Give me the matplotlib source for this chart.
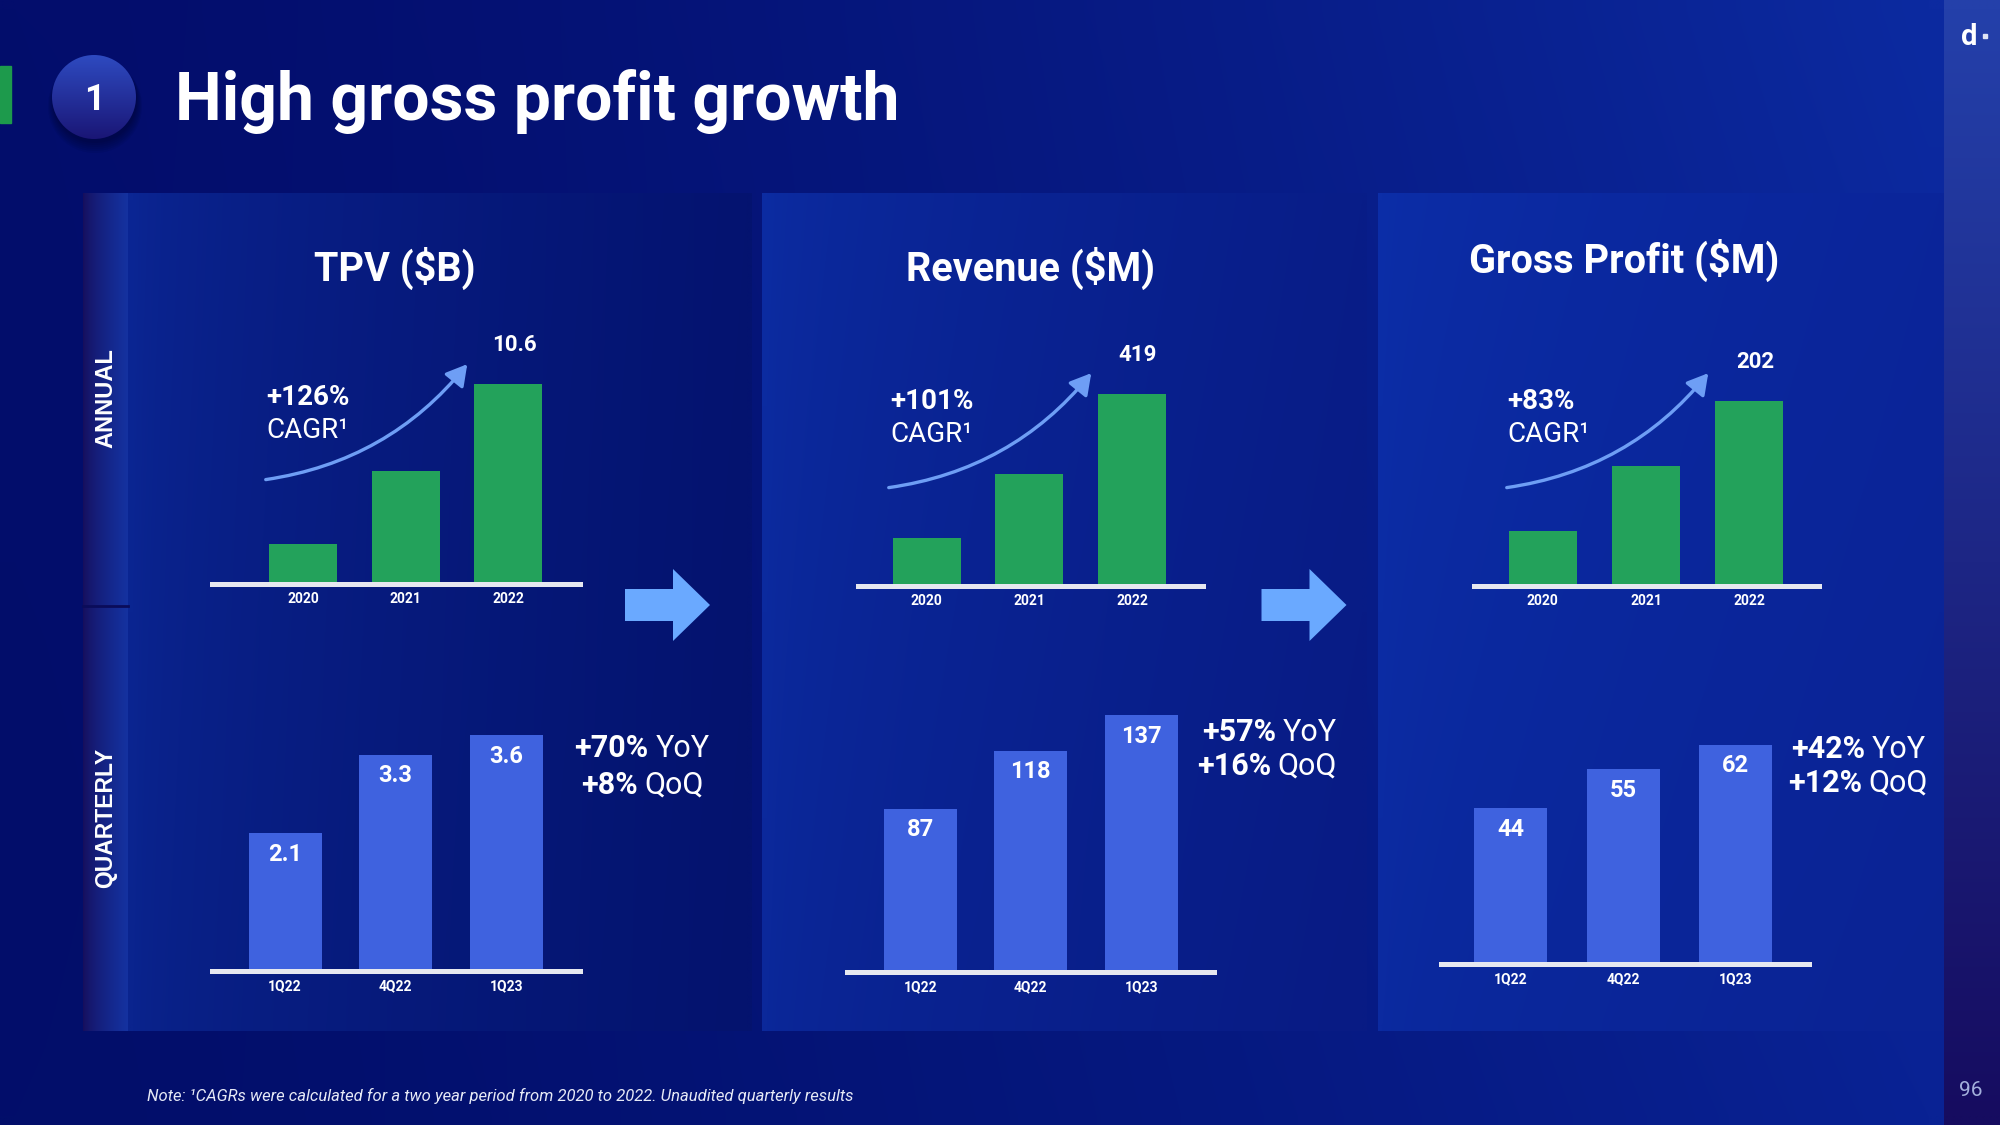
import numpy as np
import matplotlib
matplotlib.use("Agg")
import matplotlib.pyplot as plt
from matplotlib.patches import Rectangle, Circle, Polygon, FancyArrowPatch

plt.rcParams['font.family'] = ['Roboto', 'DejaVu Sans']

# Data
years = ["2020", "2021", "2022"]
quarters = ["1Q22", "4Q22", "1Q23"]

tpv_annual = [2.1, 6.0, 10.6]
tpv_quarterly = [2.1, 3.3, 3.6]
revenue_annual = [104, 244, 419]
revenue_quarterly = [87, 118, 137]
gp_annual = [60, 130, 202]
gp_quarterly = [44, 55, 62]

titles = ["TPV ($B)", "Revenue ($M)", "Gross Profit ($M)"]
cagr = ["+126%", "+101%", "+83%"]
yoy = ["+70%", "+57%", "+42%"]
qoq = ["+8%", "+16%", "+12%"]
fmt = ["{:.1f}", "{:.0f}", "{:.0f}"]

W, H = 2000, 1125
GREEN = "#23a25b"
BLUE = "#3f62df"
ARROW = "#6aa9ff"
CURVE = "#6e9ef5"

# Layout of each small chart (pixels, y from top)
annual_layout = [
    dict(line=(212, 580), base=584, c0=303, sp=102.7, bw=68, ppu=18.9),
    dict(line=(858, 1203), base=585.5, c0=926.7, sp=102.65, bw=68, ppu=0.4566),
    dict(line=(1474, 1819), base=585.5, c0=1542.7, sp=103.3, bw=68, ppu=0.9155),
]
quarter_layout = [
    dict(line=(212, 580), base=971, c0=285, sp=110.65, bw=73, ppu=65.6),
    dict(line=(847, 1214), base=972, c0=920.3, sp=110.4, bw=73, ppu=1.877),
    dict(line=(1441, 1809), base=964, c0=1510.8, sp=112.2, bw=73, ppu=3.537),
]
title_pos = [(395, 281), (1031, 281), (1624, 273)]
cagr_pos = [(266, 395), (890, 399), (1507, 399)]
curve_pos = [((263, 480), (469, 362)), ((886, 488), (1093, 371)), ((1504, 488), (1710, 371))]
growth_pos = [((642, 746), (642, 783)), ((1269, 730), (1267, 764)), ((1858, 747), (1858, 781))]

fig = plt.figure(figsize=(20, 11.25), dpi=100)
bg = fig.add_axes([0, 0, 1, 1])
bg.axis('off')


def gradient(x0, x1, y0, y1, tl, tr, bl, br, z=0, power=1.0, n=64):
    u = np.linspace(0, 1, n) ** power
    v = np.linspace(0, 1, n)
    U, V = np.meshgrid(u, v)
    tl, tr, bl, br = [np.array(c, float) / 255 for c in (tl, tr, bl, br)]
    top = tl[None, None, :] * (1 - U[..., None]) + tr[None, None, :] * U[..., None]
    bot = bl[None, None, :] * (1 - U[..., None]) + br[None, None, :] * U[..., None]
    img = top * (1 - V[..., None]) + bot * V[..., None]
    return bg.imshow(img, extent=(x0, x1, y1, y0), aspect='auto',
                     interpolation='bilinear', zorder=z)


# page background
gradient(0, 1944, 0, H, (3, 13, 108), (12, 42, 160), (2, 14, 106), (9, 34, 148), power=1.4)
# right strip
gradient(1944, W, 0, H, (36, 64, 170), (36, 64, 170), (22, 12, 96), (22, 12, 96))

# panels
gradient(128, 752, 193, 1031, (11, 38, 148), (4, 19, 112), (10, 36, 142), (4, 19, 110), z=1, power=0.6)
gradient(762, 1367, 193, 1031, (12, 44, 162), (8, 29, 136), (11, 40, 154), (8, 27, 132), z=1, power=0.6)
gradient(1378, 1944, 193, 1031, (12, 46, 168), (10, 37, 154), (11, 42, 160), (10, 35, 148), z=1, power=0.6)
# ANNUAL / QUARTERLY strip
gradient(83, 128, 193, 1031, (22, 14, 92), (20, 50, 160), (22, 14, 92), (20, 50, 160), z=1, power=0.7)
bg.plot([83, 128], [606, 606], color="#0a0c5a", lw=2, zorder=2)
bg.text(106, 398, "ANNUAL", rotation=90, ha='center', va='center', color='white',
        fontsize=17, fontweight='bold', family=['Liberation Sans', 'DejaVu Sans'], zorder=3)
bg.text(106, 818, "QUARTERLY", rotation=90, ha='center', va='center', color='white',
        fontsize=16.5, fontweight='bold', family=['Liberation Sans', 'DejaVu Sans'], zorder=3)

# header: green tab, numbered circle, title
bg.add_patch(Rectangle((0, 66), 11, 57, color="#1d9a4c", zorder=3))
for k in range(6):
    bg.add_patch(Circle((95, 101 + k), 42 + k, color='black', alpha=0.05, lw=0, zorder=3))
circ = Circle((94, 97), 42, transform=bg.transData, facecolor='none', lw=0)
bg.add_patch(circ)
im = gradient(52, 136, 55, 139, (46, 74, 192), (46, 74, 192), (26, 22, 118), (26, 22, 118), z=4)
im.set_clip_path(circ)
bg.text(94, 97 + 13, "1", ha='center', va='baseline', color='white', fontsize=26,
        fontweight='bold', zorder=5)
bg.text(175, 120, "High gross profit growth", ha='left', va='baseline', color='white',
        fontsize=47.5, fontweight='bold', zorder=5)

# logo and page number
bg.text(1969, 45, "d", ha='center', va='baseline', color='white', fontsize=21,
        fontweight='bold', zorder=5)
bg.add_patch(Rectangle((1983, 34), 4, 4, color='#dfe4f5', zorder=5))
bg.text(1971, 1096, "96", ha='center', va='baseline', color='#a3afdc', fontsize=15, zorder=5)

bg.text(147, 1101, "Note: \u00b9CAGRs were calculated for a two year period from 2020 to 2022. "
        "Unaudited quarterly results", ha='left', va='baseline', color='#e6e9f6',
        fontsize=12, style='italic', zorder=5)

# transition arrows
for dx in (0, 636.5):
    pts = [(625 + dx, 589), (673 + dx, 589), (673 + dx, 569), (710 + dx, 605),
           (673 + dx, 641), (673 + dx, 621), (625 + dx, 621)]
    bg.add_patch(Polygon(pts, closed=True, color=ARROW, lw=0, zorder=3))


def chart(vals, labels, lay, color):
    x0, x1 = lay['line']
    hpx = 340
    ax = fig.add_axes([x0 / W, (H - lay['base']) / H, (x1 - x0) / W, hpx / H])
    ax.set_xlim((x0 - lay['c0']) / lay['sp'], (x1 - lay['c0']) / lay['sp'])
    ax.set_ylim(0, hpx / lay['ppu'])
    ax.axis('off')
    x = np.arange(len(vals))
    ax.bar(x, vals, width=lay['bw'] / lay['sp'], color=color, zorder=2)
    ax.axhline(0, color='#e6e8f0', lw=3.6, zorder=3, clip_on=False)
    for i, lab in enumerate(labels):
        ax.annotate(lab, (i, 0), xytext=(0, -14), textcoords='offset points',
                    ha='center', va='baseline', color='white', fontsize=10,
                    fontweight='bold', annotation_clip=False)
    return ax


renderer = fig.canvas.get_renderer()


def mixed(xc, yc, bold, reg, size):
    yb = yc + 0.494 * size
    t1 = bg.text(0, yb, bold, fontsize=size, fontweight='bold', color='white',
                 va='baseline', zorder=5)
    t2 = bg.text(0, yb, reg, fontsize=size, color='white', va='baseline', zorder=5)
    w1 = t1.get_window_extent(renderer).width
    w2 = t2.get_window_extent(renderer).width
    gap = size * 0.3
    start = xc - (w1 + gap + w2) / 2
    t1.set_x(start)
    t2.set_x(start + w1 + gap)


annual = [tpv_annual, revenue_annual, gp_annual]
quarterly = [tpv_quarterly, revenue_quarterly, gp_quarterly]

for k in range(3):
    # annual chart
    ax = chart(annual[k], years, annual_layout[k], GREEN)
    last = len(annual[k]) - 1
    ax.annotate(fmt[k].format(annual[k][last]), (last, annual[k][last]), xytext=(4, 28),
                textcoords='offset points', ha='center', va='center', color='white',
                fontsize=16, fontweight='bold', annotation_clip=False)
    # quarterly chart
    ax = chart(quarterly[k], quarters, quarter_layout[k], BLUE)
    for i, v in enumerate(quarterly[k]):
        ax.annotate(fmt[k].format(v), (i, v), xytext=(0, -20), textcoords='offset points',
                    ha='center', va='baseline', color='white', fontsize=17,
                    fontweight='bold', annotation_clip=False)

    tx, ty = title_pos[k]
    bg.text(tx, ty, titles[k], ha='center', va='baseline', color='white', fontsize=28.5,
            fontweight='bold', zorder=5)
    cx, cy = cagr_pos[k]
    bg.text(cx, cy + 10, cagr[k], ha='left', va='baseline', color='white', fontsize=20,
            fontweight='bold', zorder=5)
    bg.text(cx, cy + 43, "CAGR\u00b9", ha='left', va='baseline', color='white', fontsize=20,
            zorder=5)
    (sx, sy), (ex, ey) = curve_pos[k]
    bg.add_patch(FancyArrowPatch((sx, sy), (ex, ey), connectionstyle='arc3,rad=0.2',
                                 arrowstyle='-|>,head_length=0.7,head_width=0.4',
                                 mutation_scale=18, color=CURVE, lw=2.4, zorder=5))
    (yx, yy), (qx, qy) = growth_pos[k]
    mixed(yx, yy, yoy[k], "YoY", 22)
    mixed(qx, qy, qoq[k], "QoQ", 22)

bg.set_xlim(0, W)
bg.set_ylim(H, 0)

fig.savefig("out.png", dpi=100)
